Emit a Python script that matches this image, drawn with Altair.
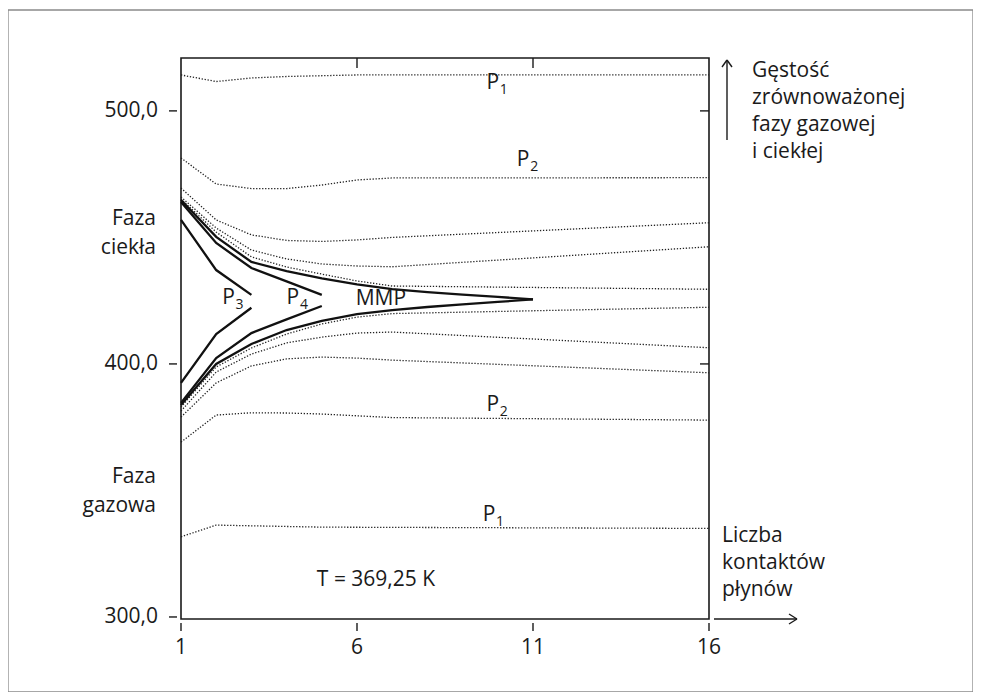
import altair as alt
import pandas as pd

FONT = "Open Sans"
INK = "#1a1a1a"

# ---- dotted density curves (x = liczba kontaktów, y = gęstość) ----
dot_x = [1, 2, 3, 4, 5, 6, 7, 16]
p1_liq_x = [1, 2, 3, 4, 6, 16]
p1_liq_y = [514.2, 511.6, 513.0, 513.6, 514.2, 514.2]
p2_liq_y = [481.4, 471.1, 469.3, 469.3, 470.7, 472.7, 473.5, 473.6]
band_up1_y = [469.5, 456.9, 451.0, 448.8, 448.4, 449.0, 450.0, 455.8]
band_up2_y = [466.0, 453.7, 445.0, 441.5, 439.5, 438.7, 438.4, 446.3]
band_up3_y = [465.2, 452.1, 442.3, 438.3, 435.5, 432.8, 430.8, 429.5]
band_lo1_y = [383.0, 398.8, 406.3, 411.8, 415.8, 418.5, 419.9, 422.4]
band_lo2_y = [381.4, 396.8, 403.9, 408.3, 410.6, 412.2, 412.6, 406.4]
band_lo3_y = [379.0, 392.5, 399.2, 402.0, 402.7, 402.3, 401.5, 396.5]
p2_gas_x = [1, 2, 3, 4, 5, 7, 16]
p2_gas_y = [369.1, 379.8, 380.7, 380.6, 380.2, 378.8, 377.8]
p1_gas_x = [1, 2, 5, 16]
p1_gas_y = [331.7, 336.3, 335.5, 335.0]

# ---- solid envelopes ----
mmp_x = [1, 2, 3, 4, 5, 6, 7, 8, 9, 10, 11]
mmp_up_y = [464.8, 450.2, 440.3, 436.7, 433.8, 431.4, 429.6, 428.4, 427.4, 426.5, 425.5]
mmp_lo_y = [383.8, 400.0, 407.9, 413.4, 417.0, 419.7, 421.3, 422.5, 423.5, 424.5, 425.5]
p4_x = [1, 2, 3, 4, 5]
p4_up_y = [464.0, 447.8, 437.9, 432.6, 427.3]
p4_lo_y = [384.6, 402.3, 412.2, 417.6, 422.9]
p3_x = [1, 2, 3]
p3_up_y = [456.9, 437.1, 427.3]
p3_lo_y = [392.5, 411.8, 422.2]

# ---- in-plot labels ----
lab_text = ["P", "P", "P", "P", "P", "P", "MMP", "T = 369,25 K"]
lab_sub = ["1", "2", "3", "4", "2", "1", "", ""]
lab_x = [9.86, 10.72, 2.35, 4.18, 9.86, 9.75, 6.68, 6.54]
lab_y = [511.0, 480.6, 426.0, 426.0, 383.6, 340.3, 425.7, 314.6]

# ---- axis ticks ----
x_ticks = [1, 6, 11, 16]
x_tick_labels = ["1", "6", "11", "16"]
y_ticks = [300, 400, 500]
y_tick_labels = ["300,0", "400,0", "500,0"]
top_inner_ticks = [6, 11]
right_inner_ticks = [400, 500]


def rows(name, xs, ys):
    return [{"s": name, "x": a, "y": b, "i": k} for k, (a, b) in enumerate(zip(xs, ys))]


dot_rows = []
dot_rows += rows("p1l", p1_liq_x, p1_liq_y)
dot_rows += rows("p2l", dot_x, p2_liq_y)
dot_rows += rows("u1", dot_x, band_up1_y)
dot_rows += rows("u2", dot_x, band_up2_y)
dot_rows += rows("u3", dot_x, band_up3_y)
dot_rows += rows("l1", dot_x, band_lo1_y)
dot_rows += rows("l2", dot_x, band_lo2_y)
dot_rows += rows("l3", dot_x, band_lo3_y)
dot_rows += rows("p2g", p2_gas_x, p2_gas_y)
dot_rows += rows("p1g", p1_gas_x, p1_gas_y)
dot_df = pd.DataFrame(dot_rows)

sol_rows = []
sol_rows += rows("mu", mmp_x, mmp_up_y)
sol_rows += rows("ml", mmp_x, mmp_lo_y)
sol_rows += rows("p4u", p4_x, p4_up_y)
sol_rows += rows("p4l", p4_x, p4_lo_y)
sol_rows += rows("p3u", p3_x, p3_up_y)
sol_rows += rows("p3l", p3_x, p3_lo_y)
sol_df = pd.DataFrame(sol_rows)

lab_df = pd.DataFrame({"t": lab_text, "sub": lab_sub, "x": lab_x, "y": lab_y})
sub_df = lab_df[lab_df["sub"] != ""]

xs = alt.Scale(domain=[1, 16], nice=False, zero=False)
ys = alt.Scale(domain=[299.2, 520.9], nice=False, zero=False)


def X(field="x"):
    return alt.X(f"{field}:Q", scale=xs, axis=None)


def Y(field="y"):
    return alt.Y(f"{field}:Q", scale=ys, axis=None)


dotted = alt.Chart(dot_df).mark_line(
    strokeDash=[1.3, 1.7], strokeWidth=1.3, color="#222"
).encode(x=X(), y=Y(), detail="s:N", order="i:Q")

solid = alt.Chart(sol_df).mark_line(strokeWidth=2.3, color="#111").encode(
    x=X(), y=Y(), detail="s:N", order="i:Q"
)

labels = alt.Chart(lab_df).mark_text(
    font=FONT, fontSize=21, color=INK, align="center", baseline="middle"
).encode(x=X(), y=Y(), text="t:N")

subs = alt.Chart(sub_df).mark_text(
    font=FONT, fontSize=14, color=INK, align="left", baseline="middle", dx=7, dy=7
).encode(x=X(), y=Y(), text="sub:N")

tick_style = dict(color=INK, strokeWidth=1.4)

# outer axis ticks and labels
xt_df = pd.DataFrame({"x": x_ticks, "lab": x_tick_labels})
yt_df = pd.DataFrame({"y": y_ticks, "lab": y_tick_labels})

x_tick_marks = alt.Chart(xt_df).mark_rule(**tick_style).encode(
    x=X(), y=alt.value(565), y2=alt.value(573))
x_tick_text = alt.Chart(xt_df).mark_text(
    font=FONT, fontSize=21, color=INK, align="center", baseline="middle"
).encode(x=X(), y=alt.value(590), text="lab:N")

y_tick_marks = alt.Chart(yt_df).mark_rule(**tick_style).encode(
    y=Y(), x=alt.value(-12), x2=alt.value(-4))
y_tick_text = alt.Chart(yt_df).mark_text(
    font=FONT, fontSize=21, color=INK, align="right", baseline="middle"
).encode(y=Y(), x=alt.value(-23), text="lab:N")

# inner ticks on top and right frame
top_ticks = alt.Chart(pd.DataFrame({"x": top_inner_ticks})).mark_rule(**tick_style).encode(
    x=X(), y=alt.value(0), y2=alt.value(10))
right_ticks = alt.Chart(pd.DataFrame({"y": right_inner_ticks})).mark_rule(**tick_style).encode(
    y=Y(), x=alt.value(519), x2=alt.value(528))

one = pd.DataFrame({"a": [0]})

border = alt.Chart(one).mark_rect(fillOpacity=0, stroke="#8a8a8a", strokeWidth=1.3).encode(
    x=alt.value(-173), x2=alt.value(792), y=alt.value(-48), y2=alt.value(634)
)

arrow_x = alt.Chart(one).mark_rule(**tick_style).encode(
    x=alt.value(533), x2=alt.value(616), y=alt.value(561), y2=alt.value(561))
arrow_x_h1 = alt.Chart(one).mark_rule(**tick_style).encode(
    x=alt.value(608), x2=alt.value(616), y=alt.value(556), y2=alt.value(561))
arrow_x_h2 = alt.Chart(one).mark_rule(**tick_style).encode(
    x=alt.value(608), x2=alt.value(616), y=alt.value(566), y2=alt.value(561))
arrow_y = alt.Chart(one).mark_rule(**tick_style).encode(
    x=alt.value(546), x2=alt.value(546), y=alt.value(2), y2=alt.value(82))
arrow_y_h1 = alt.Chart(one).mark_rule(**tick_style).encode(
    x=alt.value(541), x2=alt.value(546), y=alt.value(9), y2=alt.value(2))
arrow_y_h2 = alt.Chart(one).mark_rule(**tick_style).encode(
    x=alt.value(551), x2=alt.value(546), y=alt.value(9), y2=alt.value(2))

txt = dict(font=FONT, fontSize=21, color=INK, baseline="alphabetic")
y_title = alt.Chart(one).mark_text(align="left", lineHeight=27, **txt).encode(
    x=alt.value(571), y=alt.value(19),
    text=alt.value(["Gęstość", "zrównoważonej", "fazy gazowej", "i ciekłej"]))
x_title = alt.Chart(one).mark_text(align="left", lineHeight=27, **txt).encode(
    x=alt.value(541), y=alt.value(484),
    text=alt.value(["Liczba", "kontaktów", "płynów"]))
liq = alt.Chart(one).mark_text(align="right", lineHeight=29, **txt).encode(
    x=alt.value(-25), y=alt.value(167), text=alt.value(["Faza", "ciekła"]))
gas = alt.Chart(one).mark_text(align="right", lineHeight=29, **txt).encode(
    x=alt.value(-25), y=alt.value(425), text=alt.value(["Faza", "gazowa"]))

chart = alt.layer(
    border, dotted, solid, labels, subs,
    x_tick_marks, x_tick_text, y_tick_marks, y_tick_text,
    top_ticks, right_ticks,
    arrow_x, arrow_x_h1, arrow_x_h2, arrow_y, arrow_y_h1, arrow_y_h2,
    y_title, x_title, liq, gas,
).properties(
    width=528, height=561,
    autosize=alt.AutoSizeParams(type="none"),
    padding={"left": 173, "top": 50, "right": 264, "bottom": 73},
    background="white",
).configure_view(stroke=INK, strokeWidth=1.6)

chart.save("out.html", embed_options={"renderer": "svg", "actions": False})
